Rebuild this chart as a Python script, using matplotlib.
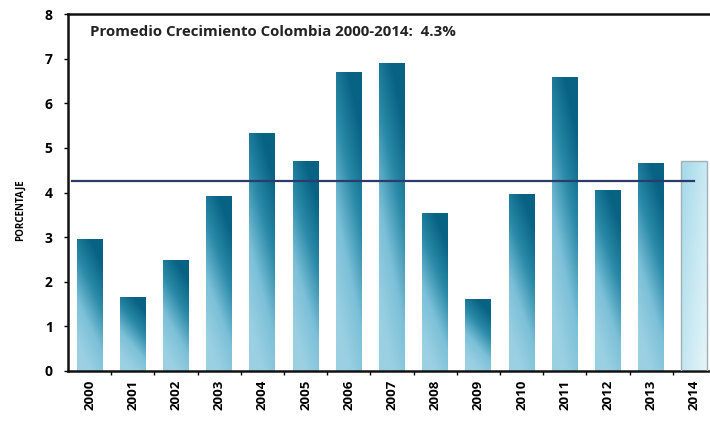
import numpy as np
import matplotlib
matplotlib.use('Agg')
from matplotlib import pyplot as plt
from matplotlib.colors import LinearSegmentedColormap

years = ['2000', '2001', '2002', '2003', '2004', '2005', '2006', '2007',
         '2008', '2009', '2010', '2011', '2012', '2013', '2014']
crecimiento = [2.96, 1.66, 2.49, 3.92, 5.34, 4.71, 6.70, 6.90,
               3.54, 1.61, 3.97, 6.59, 4.06, 4.66, 4.71]
promedio = 4.26
titulo = 'Promedio Crecimiento Colombia 2000-2014:  4.3%'

plt.rcParams['font.family'] = ['Open Sans', 'DejaVu Sans']
plt.rcParams['font.weight'] = 'bold'

fig = plt.figure(figsize=(7.1, 4.22), dpi=100)
ax = fig.add_axes([68 / 710, 51 / 422, 648 / 710, 357 / 422])

cmap_azul = LinearSegmentedColormap.from_list('azul', ['#9bd0e3', '#7cc0d8', '#2a8aa8', '#086283'])
cmap_claro = LinearSegmentedColormap.from_list('claro', ['#e6f5f9', '#c9e9f2', '#a9dbea'])

# gradiente: oscuro arriba (y a la derecha), claro abajo
xx, yy = np.meshgrid(np.linspace(0, 1, 40), np.linspace(0, 1, 80))
grad = np.clip(1.0 * yy + 0.4 * xx - 0.2, 0, 1)
grad_claro = np.clip(0.5 * yy + 0.6 * (1 - xx), 0, 1)

ancho = 0.6
x = np.arange(len(years))
for i, v in enumerate(crecimiento):
    ultimo = (i == len(years) - 1)
    barra = ax.bar(x[i], v, width=ancho, color='none',
                   edgecolor='#a3b0b5' if ultimo else 'none', linewidth=1.0, zorder=3)[0]
    im = ax.imshow(grad_claro if ultimo else grad, cmap=cmap_claro if ultimo else cmap_azul,
                   origin='lower', aspect='auto', vmin=0, vmax=1,
                   extent=[x[i] - ancho / 2, x[i] + ancho / 2, 0, v], zorder=2, interpolation='bilinear')
    im.set_clip_path(barra)

ax.plot([-0.4, 14.0], [promedio, promedio], color='#2b3b6b', linewidth=1.6, zorder=4)

ax.text(0.0, 7.6, titulo, fontsize=10.8, fontweight='bold', color='#222222', va='center')

ax.set_xlim(-0.5, 14.5)
ax.set_ylim(0, 8)
ax.set_yticks(range(0, 9))
ax.set_xticks(x)
ax.set_xticklabels(years, rotation=90, fontsize=9.5, fontweight='bold')
ax.set_xticks(x[:-1] + 0.5, minor=True)
ax.tick_params(axis='x', which='major', length=0, pad=6)
ax.tick_params(axis='x', which='minor', length=3, width=1, direction='out')
ax.tick_params(axis='y', labelsize=10, length=3, width=1, pad=8)
ax.set_ylabel('PORCENTAJE', fontsize=7, fontweight='bold')
ax.yaxis.set_label_coords(-0.065, 0.45)

for s in ['left', 'top', 'bottom']:
    ax.spines[s].set_linewidth(1.8)
    ax.spines[s].set_color('#111111')
ax.spines['right'].set_visible(False)

fig.savefig('out.png', dpi=100)
